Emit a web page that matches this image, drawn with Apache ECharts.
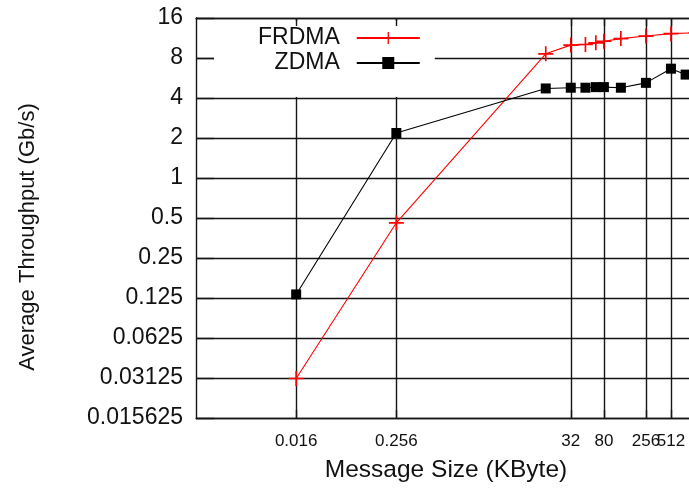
<!DOCTYPE html>
<html>
<head>
<meta charset="utf-8">
<script src="https://cdn.jsdelivr.net/npm/echarts@6/dist/echarts.min.js"></script>
<style>
  html, body { margin: 0; padding: 0; background: #fff; }
  #chart { width: 689px; height: 496px; }
</style>
</head>
<body>
<div id="chart"></div>
<script>
// Message sizes (KByte) and measured average throughput (Gb/s)
const frdmaSize = [0.016, 0.256, 16, 32, 48, 64, 80, 128, 256, 512, 1024];
const frdmaThroughput = [0.031, 0.46, 8.6, 10.0, 10.1, 10.4, 10.7, 11.2, 11.7, 12.2, 12.4];
const zdmaSize = [0.016, 0.256, 16, 32, 48, 64, 80, 128, 256, 512, 768];
const zdmaThroughput = [0.133, 2.18, 4.72, 4.78, 4.78, 4.83, 4.83, 4.78, 5.2, 6.65, 6.0];

// Axis ticks
const sizeTicks = [0.016, 0.256, 32, 80, 256, 512];
const sizeLabelsMain = [0.016, 0.256, 32, 80, 256];
const sizeLabelsLast = [512];   // sits tight against 256, kept on its own axis so both stay visible
const throughputTicks = [0.015625, 0.03125, 0.0625, 0.125, 0.25, 0.5, 1, 2, 4, 8, 16];

const FONT = 'Liberation Sans, Arial, Helvetica, sans-serif';
const INK = '#111';
const GRID_LINE = { color: '#151515', width: 1.4 };
const PLUS = 'path://M0,4.45 H10 V5.55 H0 Z M4.45,0 H5.55 V10 H4.45 Z';

const zip = (xs, ys) => xs.map((x, i) => [x, ys[i]]);
const fmt = v => String(+(+v).toPrecision(6));
const X_MIN = 0.001, X_MAX = 1024;
const xLabelStyle = { fontFamily: FONT, fontSize: 17, color: INK, margin: 15, hideOverlap: false, formatter: fmt };

const chart = echarts.init(document.getElementById('chart'), null, { renderer: 'canvas' });

chart.setOption({
  animation: false,
  backgroundColor: '#fff',
  grid: {
    left: 196, top: 18, width: 500, height: 400,
    containLabel: false,
    outerBoundsMode: 'none'
  },
  legend: {
    data: ['FRDMA', 'ZDMA'],
    orient: 'vertical',
    align: 'right',
    left: 214, top: 21,
    padding: [5, 14, 22, 44],
    itemWidth: 63, itemHeight: 15, itemGap: 1,
    backgroundColor: '#fff',
    selectedMode: false,
    textStyle: { fontFamily: FONT, fontSize: 23, lineHeight: 24, color: INK, padding: [0, 12, 0, 0] }
  },
  xAxis: [
    {
      type: 'log', logBase: 2, min: X_MIN, max: X_MAX,
      position: 'bottom',
      name: 'Message Size (KByte)',
      nameLocation: 'middle', nameGap: 40,
      nameTextStyle: { fontFamily: FONT, fontSize: 24.5, color: INK },
      axisLine: { lineStyle: GRID_LINE },
      axisTick: { show: true, inside: true, length: 8, lineStyle: GRID_LINE, customValues: sizeTicks },
      axisLabel: Object.assign({ customValues: sizeLabelsMain }, xLabelStyle),
      splitLine: { show: true, lineStyle: GRID_LINE },
      minorTick: { show: false }, minorSplitLine: { show: false }
    },
    {
      // top frame edge with mirrored ticks
      type: 'log', logBase: 2, min: X_MIN, max: X_MAX,
      position: 'top', z: 10,
      axisLine: { show: true, lineStyle: GRID_LINE },
      axisTick: { show: true, inside: true, length: 8, lineStyle: GRID_LINE, customValues: sizeTicks },
      axisLabel: { show: false },
      splitLine: { show: false }
    },
    {
      // label for the last size tick
      type: 'log', logBase: 2, min: X_MIN, max: X_MAX,
      position: 'bottom',
      axisLine: { show: false },
      axisTick: { show: false, customValues: sizeLabelsLast },
      axisLabel: Object.assign({ customValues: sizeLabelsLast }, xLabelStyle),
      splitLine: { show: false }
    }
  ],
  yAxis: {
    type: 'log', logBase: 2, min: 0.015625, max: 16,
    name: 'Average Throughput (Gb/s)',
    nameLocation: 'middle', nameGap: 157, nameRotate: 90,
    nameTextStyle: { fontFamily: FONT, fontSize: 22, color: INK, padding: [0, 38, 0, 0] },
    axisLine: { lineStyle: GRID_LINE },
    axisTick: { show: true, inside: true, length: 18, lineStyle: GRID_LINE, customValues: throughputTicks },
    axisLabel: {
      fontFamily: FONT, fontSize: 23, color: INK, margin: 13,
      hideOverlap: false,
      customValues: throughputTicks,
      formatter: fmt
    },
    splitLine: { show: true, lineStyle: GRID_LINE },
    minorTick: { show: false }, minorSplitLine: { show: false }
  },
  series: [
    {
      name: 'FRDMA', type: 'line',
      data: zip(frdmaSize, frdmaThroughput),
      symbol: PLUS, symbolSize: 15, showAllSymbol: true,
      lineStyle: { color: '#ff0000', width: 1.1 },
      itemStyle: { color: '#ff0000' },
      z: 3
    },
    {
      name: 'ZDMA', type: 'line',
      data: zip(zdmaSize, zdmaThroughput),
      symbol: 'rect', symbolSize: 10, showAllSymbol: true,
      lineStyle: { color: '#000', width: 1.1 },
      itemStyle: { color: '#000' },
      z: 3
    }
  ]
});
</script>
</body>
</html>
